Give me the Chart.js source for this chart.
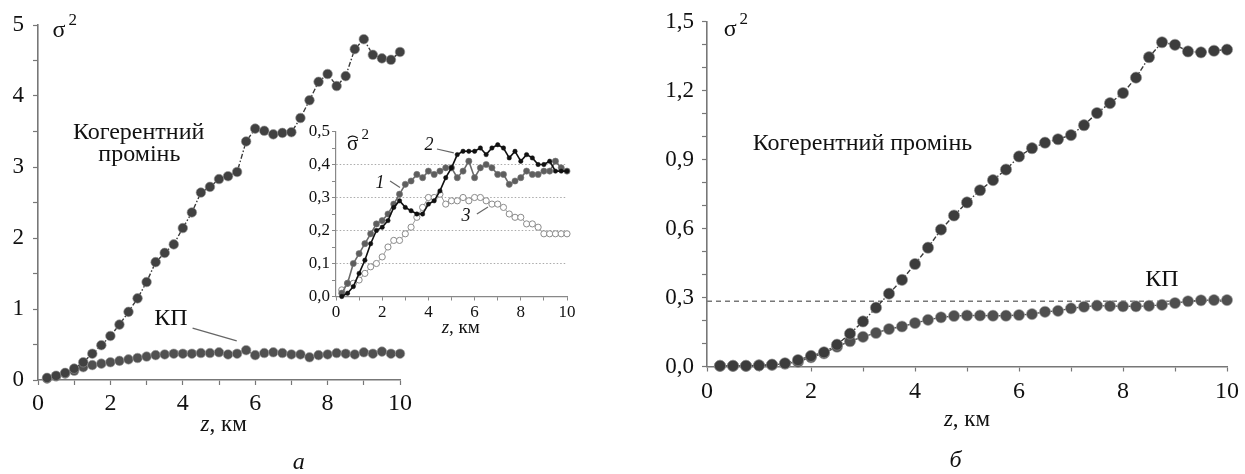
<!DOCTYPE html>
<html>
<head>
<meta charset="utf-8">
<script src="https://cdn.jsdelivr.net/npm/chart.js@4.4.1/dist/chart.umd.min.js"></script>
<style>
  html, body { margin: 0; padding: 0; background: #fff; }
  body { width: 1245px; height: 474px; position: relative; overflow: hidden; }
  canvas { position: absolute; }
  #chartA { left: 0; top: 0; }
  #chartInset { left: 296px; top: 110px; }
  #chartB { left: 630px; top: 0; }
</style>
</head>
<body>
<canvas id="chartA" width="420" height="474"></canvas>
<canvas id="chartInset" width="300" height="240"></canvas>
<canvas id="chartB" width="615" height="474"></canvas>
<script>
// distance along the path, km
const zKm = [0.25, 0.5, 0.75, 1, 1.25, 1.5, 1.75, 2, 2.25, 2.5,
  2.75, 3, 3.25, 3.5, 3.75, 4, 4.25, 4.5, 4.75, 5,
  5.25, 5.5, 5.75, 6, 6.25, 6.5, 6.75, 7, 7.25, 7.5,
  7.75, 8, 8.25, 8.5, 8.75, 9, 9.25, 9.5, 9.75, 10];

// panel a
const coherentA = [0.03, 0.06, 0.10, 0.16, 0.25, 0.37, 0.49, 0.62, 0.78, 0.96,
  1.15, 1.38, 1.66, 1.79, 1.91, 2.14, 2.36, 2.64, 2.72, 2.83,
  2.87, 2.93, 3.36, 3.54, 3.51, 3.46, 3.48, 3.49, 3.69, 3.94,
  4.20, 4.31, 4.14, 4.28, 4.66, 4.80, 4.58, 4.53, 4.51, 4.62];
const kpA = [0.02, 0.05, 0.09, 0.13, 0.18, 0.21, 0.23, 0.25, 0.27, 0.29,
  0.31, 0.33, 0.35, 0.36, 0.37, 0.37, 0.37, 0.38, 0.38, 0.39,
  0.36, 0.37, 0.42, 0.35, 0.38, 0.39, 0.38, 0.36, 0.36, 0.32,
  0.35, 0.36, 0.38, 0.37, 0.36, 0.39, 0.37, 0.40, 0.37, 0.37];

// inset, curves 1..3
const inset1 = [0.01, 0.04, 0.10, 0.13, 0.16, 0.19, 0.22, 0.23, 0.25, 0.28,
  0.31, 0.34, 0.35, 0.37, 0.36, 0.38, 0.37, 0.38, 0.39, 0.39,
  0.36, 0.38, 0.41, 0.36, 0.39, 0.40, 0.39, 0.37, 0.37, 0.34,
  0.35, 0.36, 0.38, 0.37, 0.37, 0.38, 0.38, 0.41, 0.39, 0.38];
const inset2 = [0.00, 0.01, 0.03, 0.07, 0.11, 0.16, 0.20, 0.21, 0.23, 0.27,
  0.29, 0.27, 0.26, 0.25, 0.25, 0.28, 0.29, 0.32, 0.36, 0.39,
  0.43, 0.44, 0.44, 0.44, 0.45, 0.43, 0.45, 0.46, 0.45, 0.42,
  0.44, 0.41, 0.43, 0.42, 0.40, 0.40, 0.41, 0.38, 0.38, 0.38];
const inset3 = [0.02, 0.04, 0.04, 0.05, 0.07, 0.09, 0.10, 0.12, 0.15, 0.17,
  0.17, 0.19, 0.21, 0.24, 0.27, 0.30, 0.30, 0.31, 0.28, 0.29,
  0.29, 0.30, 0.29, 0.30, 0.30, 0.29, 0.28, 0.28, 0.27, 0.25,
  0.24, 0.24, 0.22, 0.22, 0.21, 0.19, 0.19, 0.19, 0.19, 0.19];

// panel б
const coherentB = [0.003, 0.003, 0.003, 0.005, 0.008, 0.014, 0.028, 0.046, 0.062, 0.095,
  0.143, 0.196, 0.256, 0.317, 0.377, 0.446, 0.517, 0.596, 0.657, 0.714,
  0.767, 0.811, 0.857, 0.914, 0.950, 0.974, 0.989, 1.007, 1.050, 1.103,
  1.146, 1.190, 1.257, 1.346, 1.411, 1.400, 1.371, 1.367, 1.374, 1.379];
const kpB = [0.003, 0.003, 0.003, 0.005, 0.007, 0.012, 0.020, 0.040, 0.057, 0.086,
  0.110, 0.129, 0.146, 0.163, 0.174, 0.189, 0.203, 0.214, 0.220, 0.222,
  0.222, 0.221, 0.221, 0.224, 0.228, 0.238, 0.242, 0.253, 0.260, 0.265,
  0.263, 0.262, 0.262, 0.264, 0.268, 0.276, 0.284, 0.288, 0.289, 0.289];
const kpLevelB = 0.284;

const serif = "'Liberation Serif', 'Times New Roman', serif";
const pts = (xs, ys) => xs.map((x, i) => ({ x: x, y: ys[i] }));
const comma = v => v.toFixed(1).replace('.', ',');

// text, leader lines and axis titles drawn over the plot
const notesPlugin = {
  id: 'notes',
  afterDraw(chart, args, opts) {
    const ctx = chart.ctx;
    const sx = chart.scales.x, sy = chart.scales.y;
    ctx.save();
    ctx.fillStyle = '#111';
    ctx.textBaseline = 'middle';
    for (const n of opts.items || []) {
      const px = sx.getPixelForValue(n.x), py = sy.getPixelForValue(n.y);
      if (n.kind === 'line') {
        ctx.strokeStyle = '#666';
        ctx.lineWidth = 1.2;
        ctx.beginPath();
        ctx.moveTo(px, py);
        ctx.lineTo(sx.getPixelForValue(n.x2), sy.getPixelForValue(n.y2));
        ctx.stroke();
      } else if (n.kind === 'axis') {
        const f1 = `italic ${n.size}px ${serif}`, f2 = `${n.size}px ${serif}`;
        ctx.font = f1; const w1 = ctx.measureText('z').width;
        ctx.font = f2; const w2 = ctx.measureText(', км').width;
        const x0 = px - (w1 + w2) / 2;
        ctx.textAlign = 'left';
        ctx.font = f1; ctx.fillText('z', x0, py);
        ctx.font = f2; ctx.fillText(', км', x0 + w1, py);
      } else if (n.kind === 'sigma') {
        ctx.textAlign = 'left';
        ctx.font = `${n.size}px ${serif}`;
        ctx.fillText('σ', px, py);
        const w = ctx.measureText('σ').width;
        if (n.hat) {
          ctx.strokeStyle = '#111';
          ctx.lineWidth = 1.2;
          ctx.beginPath();
          ctx.arc(px + w / 2, py - 0.08 * n.size, 0.3 * n.size, Math.PI * 1.22, Math.PI * 1.78);
          ctx.stroke();
        }
        ctx.font = `${Math.round(n.size * 0.7)}px ${serif}`;
        ctx.fillText('2', px + w + 3, py - n.size * 0.42);
      } else {
        ctx.textAlign = n.align || 'center';
        ctx.font = `${n.italic ? 'italic ' : ''}${n.size}px ${serif}`;
        ctx.fillText(n.text, px, py);
      }
    }
    ctx.restore();
  }
};

function xAxis(height, fontSize, pad) {
  return {
    type: 'linear', min: 0, max: 10,
    afterFit: s => { s.height = height; },
    ticks: { stepSize: 1, autoSkip: false, maxRotation: 0, padding: pad, color: '#111',
      font: { family: serif, size: fontSize },
      callback: v => (v % 2 === 0 ? String(v) : '') },
    grid: { drawOnChartArea: false, tickLength: 5, tickColor: '#777', tickWidth: 1.2 },
    border: { color: '#777', width: 1.6 }
  };
}

// panel a
new Chart(document.getElementById('chartA'), {
  type: 'line',
  data: {
    datasets: [
      { label: 'Когерентний промінь', data: pts(zKm, coherentA), clip: false, order: 1,
        borderColor: '#3a3a3a', borderWidth: 1.4, borderDash: [5, 2, 1.5, 2],
        pointRadius: 4.8, pointBackgroundColor: '#414141',
        pointBorderColor: 'rgba(150,150,150,0.6)', pointBorderWidth: 1 },
      { label: 'КП', data: pts(zKm, kpA), clip: false, order: 2,
        borderColor: '#4a4a4a', borderWidth: 1.4,
        pointRadius: 4.8, pointBackgroundColor: '#505050',
        pointBorderColor: 'rgba(160,160,160,0.6)', pointBorderWidth: 1 }
    ]
  },
  options: {
    responsive: false, animation: false,
    layout: { padding: { top: 25, right: 20, left: 0, bottom: 0 } },
    plugins: {
      legend: { display: false }, tooltip: { enabled: false },
      notes: { items: [
        { kind: 'sigma', x: 0.4, y: 4.92, size: 24 },
        { text: 'Когерентний', x: 2.78, y: 3.49, size: 24 },
        { text: 'промінь', x: 2.8, y: 3.17, size: 24 },
        { text: 'КП', x: 3.67, y: 0.86, size: 24 },
        { kind: 'line', x: 4.27, y: 0.73, x2: 5.49, y2: 0.55 },
        { kind: 'axis', x: 5.13, y: -0.63, size: 23 },
        { text: 'а', italic: true, x: 7.2, y: -1.17, size: 24 }
      ] }
    },
    scales: {
      x: xAxis(94, 24, 4),
      y: {
        min: 0, max: 5,
        afterFit: s => { s.width = 38; },
        ticks: { stepSize: 0.5, autoSkip: false, padding: 9, color: '#111',
          font: { family: serif, size: 23 },
          callback: v => (Number.isInteger(v) ? String(v) : '') },
        grid: { drawOnChartArea: false, tickLength: 5, tickColor: '#777', tickWidth: 1.2 },
        border: { color: '#777', width: 1.6 }
      }
    }
  },
  plugins: [notesPlugin]
});

// inset of panel a
new Chart(document.getElementById('chartInset'), {
  type: 'line',
  data: {
    datasets: [
      { label: '2', data: pts(zKm, inset2), clip: false,
        borderColor: '#111', borderWidth: 1.6,
        pointRadius: 2.2, pointBackgroundColor: '#111', pointBorderColor: '#111', pointBorderWidth: 0.5 },
      { label: '1', data: pts(zKm, inset1), clip: false,
        borderColor: '#6a6a6a', borderWidth: 1.6,
        pointRadius: 3.1, pointBackgroundColor: '#5e5e5e', pointBorderColor: '#777', pointBorderWidth: 0.6 },
      { label: '3', data: pts(zKm, inset3), clip: false,
        borderColor: '#999', borderWidth: 1,
        pointRadius: 3.1, pointBackgroundColor: '#fff', pointBorderColor: '#8a8a8a', pointBorderWidth: 1 }
    ]
  },
  options: {
    responsive: false, animation: false,
    layout: { padding: { top: 21.5, right: 29, left: 0, bottom: 0 } },
    plugins: {
      legend: { display: false }, tooltip: { enabled: false },
      notes: { items: [
        { kind: 'sigma', hat: true, x: 0.48, y: 0.462, size: 21 },
        { text: '1', italic: true, x: 1.9, y: 0.344, size: 18 },
        { kind: 'line', x: 2.34, y: 0.35, x2: 2.77, y2: 0.33 },
        { text: '2', italic: true, x: 4.03, y: 0.459, size: 18 },
        { kind: 'line', x: 4.37, y: 0.447, x2: 5.1, y2: 0.435 },
        { text: '3', italic: true, x: 5.63, y: 0.244, size: 18 },
        { kind: 'line', x: 6.1, y: 0.25, x2: 6.58, y2: 0.271 },
        { kind: 'axis', x: 5.4, y: -0.095, size: 19 }
      ] }
    },
    scales: {
      x: {
        type: 'linear', min: 0, max: 10,
        afterFit: s => { s.height = 53.5; },
        ticks: { stepSize: 1, autoSkip: false, maxRotation: 0, padding: 2, color: '#111',
          font: { family: serif, size: 17 },
          callback: v => (v % 2 === 0 ? String(v) : '') },
        grid: { drawOnChartArea: false, tickLength: 4, tickColor: '#888' },
        border: { color: '#888', width: 1.2 }
      },
      y: {
        min: 0, max: 0.5,
        afterFit: s => { s.width = 40; },
        ticks: { stepSize: 0.05, autoSkip: false, padding: 2, color: '#111',
          font: { family: serif, size: 17 },
          callback: v => (Math.round(v * 100) % 10 === 0 ? comma(v) : '') },
        grid: {
          color: c => {
            const v = Math.round(c.tick.value * 100);
            return (v >= 10 && v <= 40 && v % 10 === 0) ? '#aaa' : 'rgba(0,0,0,0)';
          },
          lineWidth: 1, tickLength: 4, tickColor: '#888'
        },
        border: { color: '#888', width: 1.2, dash: [1.5, 2] }
      }
    }
  },
  plugins: [notesPlugin]
});

// panel б
new Chart(document.getElementById('chartB'), {
  type: 'line',
  data: {
    datasets: [
      { label: 'КП рівень', data: [{ x: 0, y: kpLevelB }, { x: 10, y: kpLevelB }], clip: false, order: 3,
        borderColor: '#777', borderWidth: 1.5, borderDash: [5, 4], pointRadius: 0 },
      { label: 'Когерентний промінь', data: pts(zKm, coherentB), clip: false, order: 1,
        borderColor: '#3a3a3a', borderWidth: 1.4, borderDash: [5, 2, 1.5, 2],
        pointRadius: 5.6, pointBackgroundColor: '#3c3c3c',
        pointBorderColor: 'rgba(150,150,150,0.6)', pointBorderWidth: 1 },
      { label: 'КП', data: pts(zKm, kpB), clip: false, order: 2,
        borderColor: '#555', borderWidth: 1.4,
        pointRadius: 5.6, pointBackgroundColor: '#4f4f4f',
        pointBorderColor: 'rgba(170,170,170,0.6)', pointBorderWidth: 1 }
    ]
  },
  options: {
    responsive: false, animation: false,
    layout: { padding: { top: 20, right: 14, left: 0, bottom: 0 } },
    plugins: {
      legend: { display: false }, tooltip: { enabled: false },
      notes: { items: [
        { kind: 'sigma', x: 0.32, y: 1.465, size: 24 },
        { text: 'Когерентний промінь', align: 'left', x: 0.88, y: 0.97, size: 24 },
        { text: 'КП', x: 8.75, y: 0.379, size: 24 },
        { kind: 'axis', x: 5.0, y: -0.233, size: 23 },
        { text: 'б', italic: true, x: 4.78, y: -0.41, size: 24 }
      ] }
    },
    scales: {
      x: xAxis(107.5, 24, 6),
      y: {
        min: 0, max: 1.5,
        afterFit: s => { s.width = 77; },
        ticks: { stepSize: 0.1, autoSkip: false, padding: 8, color: '#111',
          font: { family: serif, size: 23 },
          callback: v => (Math.round(v * 10) % 3 === 0 ? comma(v) : '') },
        grid: { drawOnChartArea: false, tickLength: 5, tickColor: '#777', tickWidth: 1.2 },
        border: { color: '#777', width: 1.6 }
      }
    }
  },
  plugins: [notesPlugin]
});
</script>
</body>
</html>
